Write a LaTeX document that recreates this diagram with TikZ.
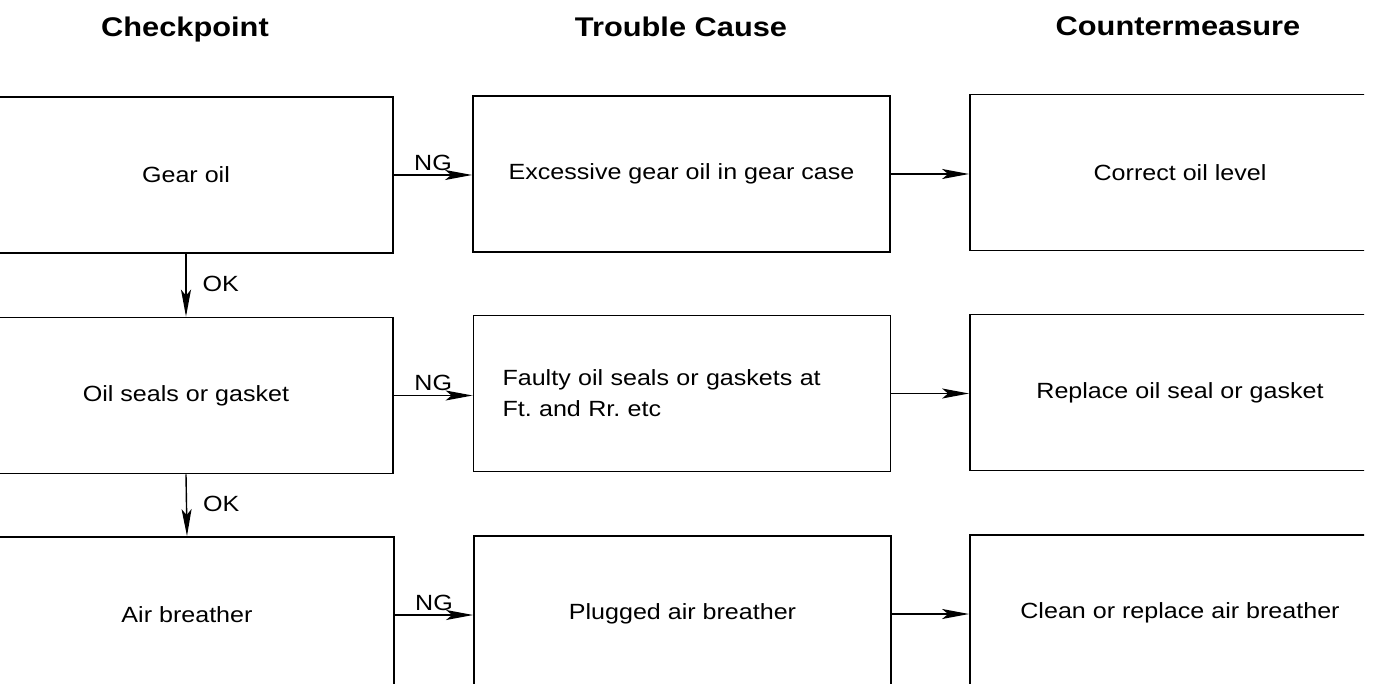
\documentclass[tikz,border=0pt]{standalone}
\usepackage{fontspec}
\setmainfont{Liberation Sans}[FakeStretch=1.14]
\usetikzlibrary{arrows.meta}
\frenchspacing
\begin{document}
\begin{tikzpicture}[x=1pt,y=-1pt,
  boxbase/.style={draw,line width=1.8pt,minimum height=156pt,inner sep=0pt,
    font=\fontsize{22}{31}\selectfont},
  lbox/.style={boxbase,minimum width=414pt},
  mbox/.style={boxbase,minimum width=417pt},
  rbox/.style={boxbase,minimum width=420pt},
  head/.style={font=\fontsize{27}{32}\selectfont\bfseries},
  lab/.style={font=\fontsize{22}{26}\selectfont,inner sep=2pt},
  arr/.style={line width=1.4pt,-{Stealth[length=27pt,width=10pt,inset=6pt]}}]
\useasboundingbox (0,0) rectangle (1392,684);
\node[head] (h1) at (185,30) {Checkpoint};
\node[head] (h2) at (681,27) {Trouble Cause};
\node[head] (h3) at (1178,26) {Countermeasure};
\begin{scope}
\clip (0,0) rectangle (1364,684);
\node[lbox] (l1) at (186,175) {Gear oil};
\node[lbox] (l2) at (186,395.5) {Oil seals or gasket};
\node[lbox] (l3) at (187,615) {Air breather};
\node[mbox] (m1) at (681.5,174) {Excessive gear oil in gear case};
\node[mbox,text width=359pt,inner xsep=29pt,align=left] (m2) at (682,393.5) {Faulty oil seals or gaskets at\\Ft. and Rr. etc};
\node[mbox] (m3) at (682.5,614) {Plugged air breather};
\node[rbox] (r1) at (1180,172.5) {Correct oil level};
\node[rbox] (r2) at (1180,392.5) {Replace oil seal or gasket};
\node[rbox] (r3) at (1180,613) {Clean or replace air breather};
\end{scope}
\draw[arr] (l1.east) -- node[lab,above,yshift=2pt] (ng1) {NG} (l1.east -| m1.west);
\draw[arr] (l2.east) -- node[lab,above,yshift=2pt] (ng2) {NG} (l2.east -| m2.west);
\draw[arr] (l3.east) -- node[lab,above,yshift=2pt] (ng3) {NG} (l3.east -| m3.west);
\draw[arr] (m1.east) -- (m1.east -| r1.west);
\draw[arr] (m2.east) -- (m2.east -| r2.west);
\draw[arr] (m3.east) -- (m3.east -| r3.west);
\draw[arr] (l1.south) -- node[lab,right,xshift=14pt,yshift=1pt] (ok1) {OK} (l2.north);
\draw[arr] (l2.south) -- node[lab,right,xshift=14pt,yshift=1pt] (ok2) {OK} (l3.north);
\end{tikzpicture}
\end{document}
